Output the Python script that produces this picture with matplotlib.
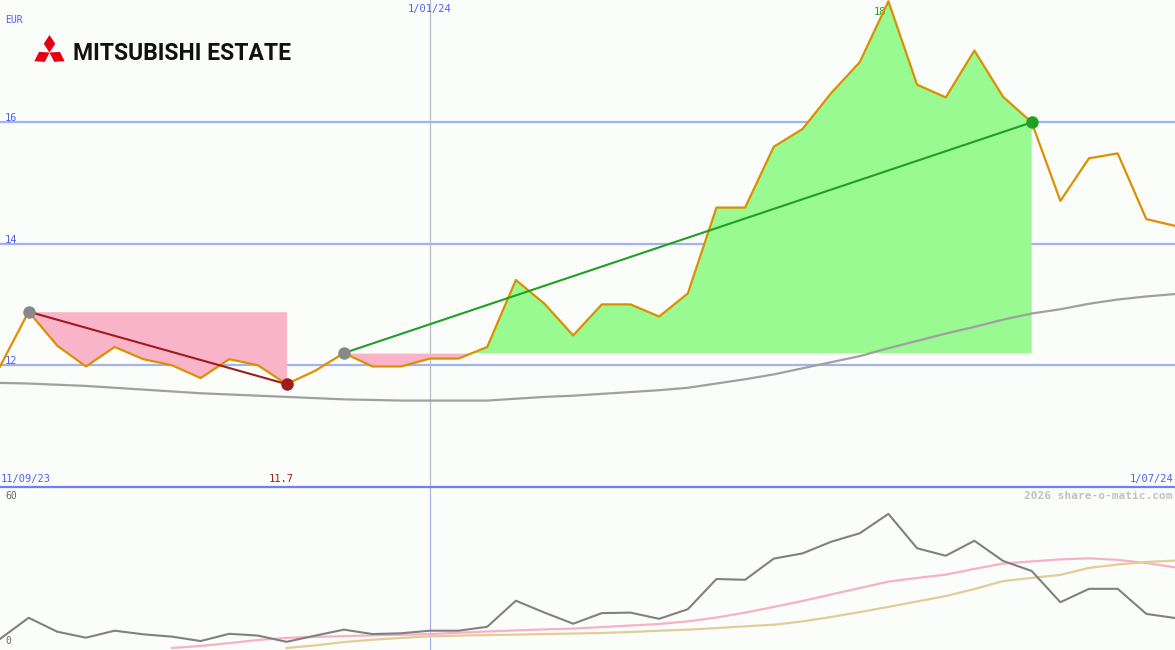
import matplotlib
matplotlib.use("Agg")
import matplotlib.pyplot as plt
import numpy as np
from matplotlib.patches import Polygon, Rectangle

# ---------------- data ----------------
price = [11.98, 12.88, 12.32, 11.98, 12.30, 12.10, 12.00, 11.79, 12.10, 12.00,
         11.69, 11.91, 12.20, 11.98, 11.98, 12.11, 12.11, 12.30, 13.40, 13.01,
         12.49, 13.00, 13.00, 12.80, 13.18, 14.59, 14.59, 15.59, 15.88, 16.47,
         16.98, 17.98, 16.61, 16.40, 17.17, 16.41, 15.99, 14.70, 15.40, 15.48,
         14.40, 14.29]
ma_long = [11.71, 11.70, 11.68, 11.66, 11.63, 11.60, 11.57, 11.54, 11.52, 11.50,
           11.48, 11.46, 11.44, 11.43, 11.42, 11.42, 11.42, 11.42, 11.45, 11.48,
           11.50, 11.53, 11.56, 11.59, 11.63, 11.70, 11.77, 11.85, 11.95, 12.05,
           12.15, 12.28, 12.40, 12.52, 12.63, 12.75, 12.85, 12.92, 13.01, 13.08,
           13.13, 13.17]
osc = [3.5, 11.7, 6.3, 4.0, 6.7, 5.3, 4.4, 2.7, 5.5, 4.8,
       2.4, 4.8, 7.1, 5.4, 5.7, 6.7, 6.7, 8.2, 18.3, 13.7,
       9.4, 13.5, 13.7, 11.3, 15.0, 26.7, 26.4, 34.6, 36.6, 41.1,
       44.4, 51.9, 38.6, 35.7, 41.5, 33.7, 29.8, 17.7, 22.9, 22.9,
       13.2, 11.6]
osc_fast = [np.nan] * 6 + [0.0, 0.8, 1.9, 3.1, 3.9, 4.3, 4.6, 4.9, 5.1, 5.4,
            5.9, 6.4, 6.8, 7.2, 7.5, 8.1, 8.7, 9.3, 10.3, 11.8,
            13.7, 15.9, 18.2, 20.7, 23.2, 25.7, 27.1, 28.4, 30.6, 32.7,
            33.5, 34.3, 34.7, 34.1, 32.9, 31.2]
osc_slow = [np.nan] * 10 + [0.0, 1.0, 2.3, 3.2, 3.9, 4.5, 4.8, 5.0, 5.2, 5.4,
            5.6, 5.8, 6.2, 6.7, 7.1, 7.7, 8.4, 9.0, 10.3, 12.0,
            13.9, 15.9, 18.0, 20.1, 22.8, 25.9, 27.1, 28.3, 31.0, 32.3,
            33.3, 33.8]
trades = [(1, 10), (12, 36)]          # (entry index, exit index)
price_ticks = [12, 14, 16]
date_labels = ["11/09/23", "1/01/24", "1/07/24"]
year_line_idx = 15
low_label = "11.7"
high_label = "18"
title = "MITSUBISHI ESTATE"

# ---------------- style ----------------
BG = "#fbfdfb"
BLUE_TXT = "#4f5ff0"
GRID = "#a4b2f2"
ORANGE = "#dc9000"
MONO = "DejaVu Sans Mono"

W, H = 1175, 650
fig = plt.figure(figsize=(W / 100, H / 100), dpi=100, facecolor=BG)

x = np.arange(len(price))
pr = np.array(price)

ax = fig.add_axes([0, (H - 487) / H, 1, 487 / H])
ax.set_facecolor(BG)
ax.set_xlim(0, len(price) - 1)
ax.set_ylim(10, 18)
ax.axis("off")

for t in price_ticks:
    ax.axhline(t, color=GRID, lw=1.6, zorder=1)
    ax.text(5 / W, t - 0.02, str(t), transform=ax.get_yaxis_transform(), color=BLUE_TXT,
            fontsize=7.5, family=MONO, va="bottom", ha="left")
ax.axvline(year_line_idx, color="#b8bcc8", lw=0.9, zorder=1)

# trade fills
for i0, i1 in trades:
    xs = x[i0:i1 + 1]
    ys = pr[i0:i1 + 1]
    lvl = pr[i0]
    xf = np.linspace(i0, i1, (i1 - i0) * 40 + 1)
    yf = np.interp(xf, xs, ys)
    ax.fill_between(xf, yf, lvl, where=yf <= lvl, color="#f9b4c9", lw=0, zorder=2)
    ax.fill_between(xf, yf, lvl, where=yf >= lvl, color="#98fa90", lw=0, zorder=2)

ax.plot(x, ma_long, color="#a0a0a0", lw=1.6, zorder=3)
ax.plot(x, pr, color=ORANGE, lw=1.6, zorder=4)

# trade lines and markers
colors = ["#a01c1c", "#229f22"]
for (i0, i1), c in zip(trades, colors):
    ax.plot([i0, i1], [pr[i0], pr[i1]], color=c, lw=1.5, zorder=5)
    ax.plot(i0, pr[i0], "o", color="#888888", ms=9, zorder=6, mec="none")
    ax.plot(i1, pr[i1], "o", color=c, ms=9, zorder=6, mec="none")

# peak label (partially hidden)
imax = int(np.argmax(pr))
tx = ax.text(imax - 0.3, pr[imax] - 0.17, high_label, color="#229f22", fontsize=7.5,
             family=MONO, ha="center", va="center", zorder=3)
tx.set_clip_path(Rectangle((0, 10), imax, 9, transform=ax.transData))

ax.text(5 / W, 1 - 20 / 487, "EUR", transform=ax.transAxes, color=BLUE_TXT,
        fontsize=7, family=MONO, va="center", ha="left")
ax.text(year_line_idx, 1 - 9 / 487, date_labels[1], transform=ax.get_xaxis_transform(),
        color=BLUE_TXT, fontsize=7.5, family=MONO, va="center", ha="center")
ax.text(1 / W, 8 / 487, date_labels[0], transform=ax.transAxes, color=BLUE_TXT,
        fontsize=7.5, family=MONO, va="center", ha="left")
ax.text(1 - 2 / W, 8 / 487, date_labels[2], transform=ax.transAxes, color=BLUE_TXT,
        fontsize=7.5, family=MONO, va="center", ha="right")
imin = trades[0][1]
ax.text(imin - 0.2, 8 / 487, low_label, transform=ax.get_xaxis_transform(),
        color="#a01c1c", fontsize=7.5, family=MONO, va="center", ha="center")

# ---------------- lower panel ----------------
bx = fig.add_axes([0, 0, 1, (H - 487) / H])
bx.set_facecolor(BG)
bx.set_xlim(0, len(price) - 1)
bx.set_ylim(-0.77, 62.3)
bx.axis("off")
bx.axvline(year_line_idx, color="#a8b0f0", lw=0.9, zorder=1)
bx.plot(x, osc_fast, color="#f8b0c8", lw=1.6, zorder=2)
bx.plot(x, osc_slow, color="#e2cc98", lw=1.6, zorder=2)
bx.plot(x, osc, color="#808080", lw=1.5, zorder=3)
bx.text(5 / W, 1 - 9 / 163, "60", color="#666666", fontsize=7, family=MONO,
        transform=bx.transAxes, va="center", ha="left")
bx.text(5 / W, 9 / 163, "0", color="#666666", fontsize=7, family=MONO,
        transform=bx.transAxes, va="center", ha="left")
bx.text(1 - 2 / W, 1 - 9 / 163, "2026 share-o-matic.com", transform=bx.transAxes,
        color="#c0c0c0", fontsize=8, family=MONO, weight="bold", va="center", ha="right")

# separator line
fig.add_artist(plt.Line2D([0, 1], [(H - 487) / H] * 2, color="#7080f0", lw=1.6,
                          transform=fig.transFigure))

# ---------------- logo ----------------
def rhombus(cx, cy, ang, L, Wd):
    d = np.array([np.cos(np.radians(ang)), np.sin(np.radians(ang))])
    p = np.array([-d[1], d[0]])
    c = np.array([cx, cy])
    pts = [c, c + d * L / 2 + p * Wd / 2, c + d * L, c + d * L / 2 - p * Wd / 2]
    return [(q[0] / W, q[1] / H) for q in pts]

cx, cy = 49.5, H - 52.5
for ang in (90, 210, 330):
    fig.add_artist(Polygon(rhombus(cx, cy, ang, 17.5, 11.5), closed=True, color="#e60012",
                           lw=0, transform=fig.transFigure))
fig.text(73 / W, 1 - 53 / H, title, color="#111111", fontsize=16.5,
         family="Roboto", weight="bold", va="center", ha="left")

fig.savefig("out.png", dpi=100, facecolor=BG)
